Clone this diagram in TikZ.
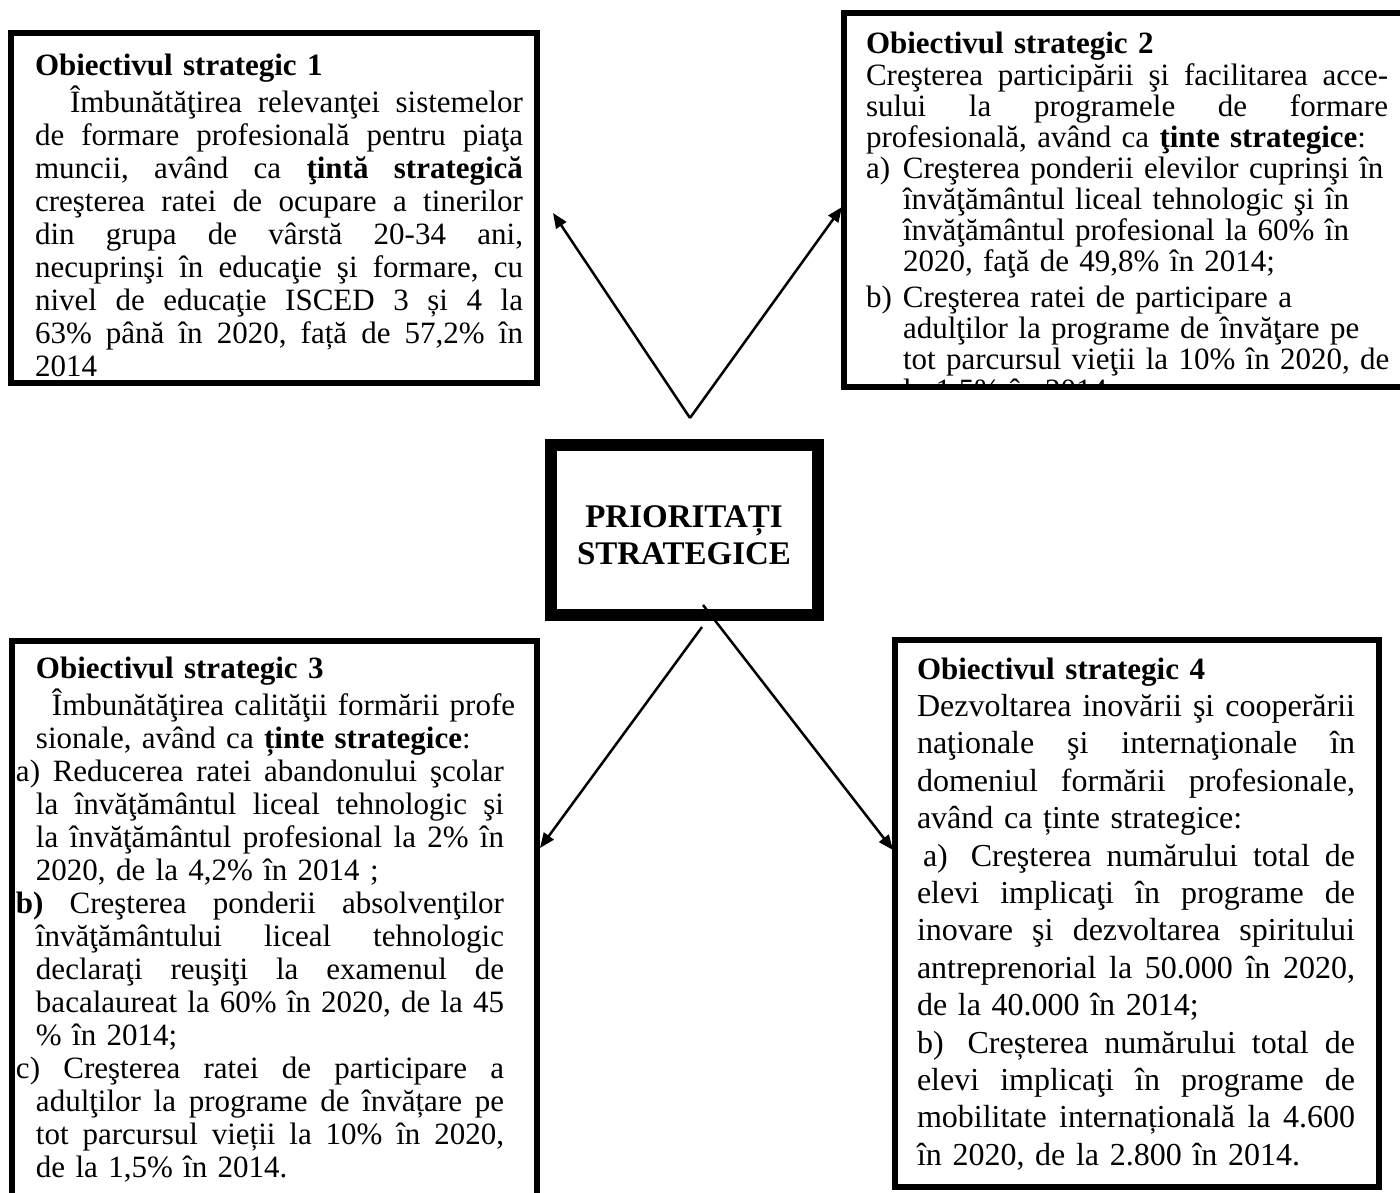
\documentclass[tikz,border=0pt]{standalone}
\usepackage{fontspec}
\setmainfont{Liberation Serif}
\usetikzlibrary{arrows.meta}
\AtBeginDocument{\lineskiplimit=-50pt\relax}
% justified line of a given width, plain line
\newcommand{\jl}[2][488pt]{{\frenchspacing\spaceskip=0.25em plus 1fil minus 0.08em\relax\makebox[#1][s]{#2}}}
\newcommand{\nl}[1]{\mbox{#1}}
\tikzset{
  obox/.style={draw, line width=6pt, anchor=north west, inner sep=0pt, outer sep=0pt},
  txt/.style={anchor=north west, inner sep=0pt, outer sep=0pt, align=left},
  arr/.style={line width=2.5pt, -{Triangle[length=15pt,width=12pt]}},
}
\begin{document}
\begin{tikzpicture}[x=1pt,y=-1pt]
\useasboundingbox (0,0) rectangle (1400,1193);

% connector end points
\coordinate (a1) at (690,418);
\coordinate (t1) at (553,213);
\coordinate (t2) at (842,207);
\coordinate (s3) at (702,627);
\coordinate (t3) at (540,848);
\coordinate (s4) at (703,605);
\coordinate (t4) at (893,850);

\draw[arr] (a1) -- (t1);
\draw[arr] (a1) -- (t2);
\draw[arr] (s3) -- (t3);
\draw[arr] (s4) -- (t4);

% box 1
\node[obox, minimum width=526pt, minimum height=350pt] (b1) at (11,33) {};
\node[txt, text width=488pt, font=\fontsize{31}{33}\selectfont] (x1) at (35,52) {%
\nl{\strut\bfseries Obiectivul strategic 1}\\
\jl{\hspace*{35pt}Îmbunătăţirea relevanţei sistemelor}\\
\jl{de formare profesională pentru piaţa}\\
\jl{muncii, având ca \textbf{ţintă strategică}}\\
\jl{creşterea ratei de ocupare a tinerilor}\\
\jl{din grupa de vârstă 20-34 ani,}\\
\jl{necuprinşi în educaţie şi formare, cu}\\
\jl{nivel de educaţie ISCED 3 și 4 la}\\
\jl{63\% până în 2020, față de 57,2\% în}\\
\nl{2014}};

% box 2
\begin{scope}
\clip (844,15) rectangle (1400,384);
\node[txt, text width=522pt, font=\fontsize{31}{31}\selectfont] (x2) at (866,32) {%
\nl{\strut\bfseries Obiectivul strategic 2}\\
\jl[522pt]{Creşterea participării şi facilitarea acce-}\\
\jl[522pt]{sului la programele de formare}\\
\nl{profesională, având ca \textbf{ţinte strategice}:}\\
\nl{\makebox[37pt][l]{a)}Creşterea ponderii elevilor cuprinşi în}\\
\nl{\hspace*{37pt}învăţământul liceal tehnologic şi în}\\
\nl{\hspace*{37pt}învăţământul profesional la 60\% în}\\
\nl{\hspace*{37pt}2020, faţă de 49,8\% în 2014;}\\[5pt]
\nl{\makebox[37pt][l]{b)}Creşterea ratei de participare a}\\
\nl{\hspace*{37pt}adulţilor la programe de învăţare pe}\\
\nl{\hspace*{37pt}tot parcursul vieţii la 10\% în 2020, de}\\
\nl{\hspace*{37pt}la 1,5\% în 2014.}};
\end{scope}
\node[obox, minimum width=580pt, minimum height=374pt] (b2) at (844,13) {};

% central box
\node[obox, line width=12pt, minimum width=267pt, minimum height=170pt] (c) at (551,445) {};
\node[align=center, inner sep=0pt, font=\fontsize{33}{37}\selectfont\bfseries] (prio) at (684,535) {PRIORITAȚI\\STRATEGICE};

% box 3
\node[obox, minimum width=525pt, minimum height=620pt] (b3) at (11.5,640.5) {};
\node[txt, text width=488pt, font=\fontsize{31}{33}\selectfont] (x3) at (16,655) {%
\nl{\strut\hspace*{20pt}\bfseries Obiectivul strategic 3}\\
\nl{\hspace*{36pt}Îmbunătăţirea calităţii formării profe}\\
\nl{\hspace*{20pt}sionale, având ca \textbf{ținte strategice}:}\\
\jl{a) Reducerea ratei abandonului şcolar}\\
\jl{\hspace*{20pt}la învăţământul liceal tehnologic şi}\\
\jl{\hspace*{20pt}la învăţământul profesional la 2\% în}\\
\nl{\hspace*{20pt}2020, de la 4,2\% în 2014 ;}\\
\jl{\textbf{b)} Creşterea ponderii absolvenţilor}\\
\jl{\hspace*{20pt}învăţământului liceal tehnologic}\\
\jl{\hspace*{20pt}declaraţi reuşiţi la examenul de}\\
\jl{\hspace*{20pt}bacalaureat la 60\% în 2020, de la 45}\\
\nl{\hspace*{20pt}\% în 2014;}\\
\jl{c) Creşterea ratei de participare a}\\
\jl{\hspace*{20pt}adulţilor la programe de învățare pe}\\
\jl{\hspace*{20pt}tot parcursul vieții la 10\% în 2020,}\\
\nl{\hspace*{20pt}de la 1,5\% în 2014.}};

% box 4
\node[obox, minimum width=484pt, minimum height=547pt] (b4) at (895,640) {};
\node[txt, text width=438pt, font=\fontsize{32}{37.4}\selectfont] (x4) at (917,653) {%
\nl{\strut\fontsize{31}{37}\selectfont\bfseries Obiectivul strategic 4}\\
\jl[438pt]{Dezvoltarea inovării şi cooperării}\\
\jl[438pt]{naţionale şi internaţionale în}\\
\jl[438pt]{domeniul formării profesionale,}\\
\nl{având ca ținte strategice:}\\
\jl[438pt]{\hspace*{6pt}a)\hspace{8pt} Creşterea numărului total de}\\
\jl[438pt]{elevi implicaţi în programe de}\\
\jl[438pt]{inovare şi dezvoltarea spiritului}\\
\jl[438pt]{antreprenorial la 50.000 în 2020,}\\
\nl{de la 40.000 în 2014;}\\
\jl[438pt]{b)\hspace{8pt} Creșterea numărului total de}\\
\jl[438pt]{elevi implicaţi în programe de}\\
\jl[438pt]{mobilitate internațională la 4.600}\\
\nl{în 2020, de la 2.800 în 2014.}};
\end{tikzpicture}
\end{document}
